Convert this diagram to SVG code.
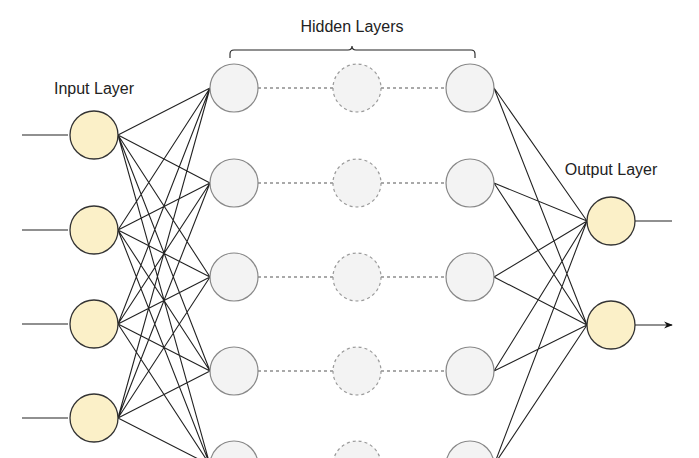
<svg xmlns="http://www.w3.org/2000/svg" width="699" height="458" viewBox="0 0 699 458">
<defs>
<style>
.t{font-family:"Liberation Sans",Arial,sans-serif;font-size:16px;fill:#222;text-anchor:middle}
.io{fill:#fbf0c8;stroke:#333;stroke-width:1.3}
.h{fill:#f3f3f3;stroke:#888;stroke-width:1.2}
.d{fill:#f3f3f3;stroke:#999;stroke-width:1.2;stroke-dasharray:3 3}
.e{stroke:#222;stroke-width:1.1;fill:none}
.dl{stroke:#555;stroke-width:1.1;stroke-dasharray:3 3;fill:none}
</style>
<marker id="a" viewBox="0 0 10 10" refX="9" refY="5" markerWidth="8" markerHeight="8" orient="auto"><path d="M0,1 L10,5 L0,9 L3,5 Z" fill="#111"/></marker>
</defs>
<rect width="699" height="458" fill="#fff"/>
<text class="t" x="352" y="32">Hidden Layers</text>
<text class="t" x="94" y="94">Input Layer</text>
<text class="t" x="611" y="175">Output Layer</text>
<path class="e" d="M230,58 V54 Q230,50 234,50 H348 Q352,50 352,46 Q352,50 356,50 H471 Q475,50 475,54 V58" stroke="#444"/>
<g id="connectors">
<g class="e">
<path d="M22,135H68M22,230H68M22,324H68M22,418H68M635,221H672M635,325H672" marker-end="url(#a)"/>
<path d="M118,135L210,88M118,135L210,183M118,135L210,277M118,135L210,371M118,135L210,465
M118,230L210,88M118,230L210,183M118,230L210,277M118,230L210,371M118,230L210,465
M118,324L210,88M118,324L210,183M118,324L210,277M118,324L210,371M118,324L210,465
M118,418L210,88M118,418L210,183M118,418L210,277M118,418L210,371M118,418L210,465"/>
<path d="M494,88L587,221M494,88L587,325M494,183L587,221M494,183L587,325M494,277L587,221M494,277L587,325M494,371L587,221M494,371L587,325M494,465L587,221M494,465L587,325"/>
</g>
<path class="dl" d="M258,88H333M381,88H446M258,183H333M381,183H446M258,277H333M381,277H446M258,371H333M381,371H446M258,465H333M381,465H446"/>
</g>
<g id="input"><circle class="io" cx="94" cy="135" r="24"/><circle class="io" cx="94" cy="230" r="24"/><circle class="io" cx="94" cy="324" r="24"/><circle class="io" cx="94" cy="418" r="24"/></g>
<g id="hidden1"><circle class="h" cx="234" cy="88" r="24"/><circle class="h" cx="234" cy="183" r="24"/><circle class="h" cx="234" cy="277" r="24"/><circle class="h" cx="234" cy="371" r="24"/><circle class="h" cx="234" cy="465" r="24"/></g>
<g id="hidden2"><circle class="d" cx="357" cy="88" r="24"/><circle class="d" cx="357" cy="183" r="24"/><circle class="d" cx="357" cy="277" r="24"/><circle class="d" cx="357" cy="371" r="24"/><circle class="d" cx="357" cy="465" r="24"/></g>
<g id="hidden3"><circle class="h" cx="470" cy="88" r="24"/><circle class="h" cx="470" cy="183" r="24"/><circle class="h" cx="470" cy="277" r="24"/><circle class="h" cx="470" cy="371" r="24"/><circle class="h" cx="470" cy="465" r="24"/></g>
<g id="output"><circle class="io" cx="611" cy="221" r="24"/><circle class="io" cx="611" cy="325" r="24"/></g>
</svg>
